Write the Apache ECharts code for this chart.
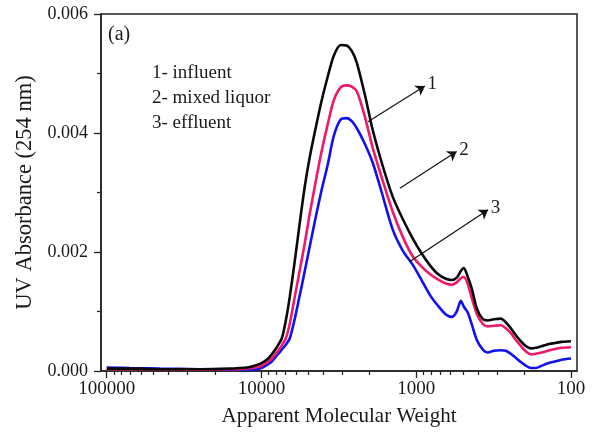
<!DOCTYPE html>
<html><head><meta charset="utf-8">
<script src="https://cdn.jsdelivr.net/npm/echarts@6/dist/echarts.min.js"></script>
<style>html,body{margin:0;padding:0;background:#fff}#c{width:596px;height:432px}</style>
</head><body><div id="c"></div>
<script>
// Apparent molecular weight (x, log scale, reversed)
const molecularWeight = [100000, 71000, 45400, 25000, 16000, 13800, 12400, 11400, 10250, 9250,
  8580, 7960, 7390, 6960, 6560, 6090, 5650, 5250, 4870, 4450,
  4080, 3730, 3410, 3070, 2810, 2610, 2420, 2150, 1910, 1670,
  1420, 1220, 1050, 920, 817, 725, 644, 589, 547, 515,
  492, 464, 437, 406, 371, 345, 315, 284, 264, 245,
  227, 211, 196, 182, 169, 154, 141, 127, 115, 100];
// 1- influent
const influent = [0.00004, 0.00004, 0.00003, 0.00003, 0.00004, 0.00005, 0.00006, 0.00008, 0.00012, 0.00019,
  0.00028, 0.00040, 0.00055, 0.00085, 0.00125, 0.00185, 0.00250, 0.00310, 0.00360, 0.00410,
  0.00455, 0.00495, 0.00530, 0.00548, 0.00547, 0.00538, 0.00518, 0.00465, 0.00405, 0.00350,
  0.00293, 0.00255, 0.00222, 0.00197, 0.00178, 0.00163, 0.00155, 0.00153, 0.00157, 0.00168,
  0.00173, 0.00158, 0.00138, 0.00105, 0.00087, 0.00085, 0.00087, 0.00088, 0.00082, 0.00072,
  0.00060, 0.00050, 0.00042, 0.00038, 0.00039, 0.00042, 0.00045, 0.00047, 0.00049, 0.00050];
// 2- mixed liquor
const mixedLiquor = [0.00003, 0.00003, 0.00003, 0.00002, 0.00003, 0.00003, 0.00004, 0.00005, 0.00008, 0.00014,
  0.00021, 0.00031, 0.00043, 0.00055, 0.00080, 0.00125, 0.00170, 0.00215, 0.00265, 0.00320,
  0.00370, 0.00415, 0.00455, 0.00477, 0.00480, 0.00478, 0.00470, 0.00428, 0.00375, 0.00325,
  0.00268, 0.00225, 0.00192, 0.00175, 0.00163, 0.00154, 0.00147, 0.00145, 0.00149, 0.00156,
  0.00158, 0.00146, 0.00122, 0.00096, 0.00079, 0.00075, 0.00076, 0.00077, 0.00072, 0.00064,
  0.00052, 0.00042, 0.00033, 0.00028, 0.00029, 0.00031, 0.00034, 0.00037, 0.00039, 0.00040];
// 3- effluent
const effluent = [0.00006, 0.00005, 0.00004, 0.00003, 0.00002, 0.00002, 0.00002, 0.00002, 0.00004, 0.00010,
  0.00016, 0.00026, 0.00036, 0.00044, 0.00055, 0.00088, 0.00128, 0.00168, 0.00210, 0.00260,
  0.00305, 0.00347, 0.00395, 0.00423, 0.00425, 0.00420, 0.00408, 0.00382, 0.00350, 0.00300,
  0.00238, 0.00202, 0.00178, 0.00152, 0.00128, 0.00110, 0.00095, 0.00091, 0.00100, 0.00118,
  0.00108, 0.00098, 0.00078, 0.00052, 0.00036, 0.00031, 0.00034, 0.00035, 0.00034, 0.00029,
  0.00022, 0.00015, 0.00009, 0.00005, 0.00005, 0.00009, 0.00013, 0.00016, 0.00019, 0.00021];

const xMajorTicks = [100000, 10000, 1000, 100];
const xMinorTicks = [90000, 80000, 70000, 60000, 50000, 40000, 30000, 20000,
  9000, 8000, 7000, 6000, 5000, 4000, 3000, 2000,
  900, 800, 700, 600, 500, 400, 300, 200];
const seriesNames = ['1- influent', '2- mixed liquor', '3- effluent'];
const arrowLabels = ['1', '2', '3'];
// arrow start / end points [MW, absorbance]
const arrowStarts = [[2050, 0.00419], [1276, 0.00307], [1099, 0.00184]];
const arrowEnds = [[879, 0.00479], [548, 0.00369], [343, 0.00271]];

const FONT = '"Liberation Serif", "Times New Roman", serif';
const TXT = '#1a1a1a';
const lg = v => Math.log10(v);
const toPts = ys => molecularWeight.map((m, i) => [lg(m), ys[i]]);

const chart = echarts.init(document.getElementById('c'), null, {renderer: 'canvas'});
const baseX = {
  type: 'value', min: 1.961, max: 5.037, inverse: true, position: 'bottom',
  splitLine: {show: false}
};
const option = {
  animation: false,
  backgroundColor: '#fff',
  grid: {left: 101, right: 19, top: 14, bottom: 61, show: true, borderColor: '#222', borderWidth: 1.5},
  xAxis: [
    Object.assign({}, baseX, {
      name: 'Apparent Molecular Weight', nameLocation: 'middle', nameGap: 35,
      nameTextStyle: {fontFamily: FONT, fontSize: 21, color: TXT},
      axisLine: {show: true, lineStyle: {color: '#222', width: 1.5}},
      axisTick: {show: true, inside: false, length: 7, customValues: xMajorTicks.map(lg), lineStyle: {color: '#222', width: 1.3}},
      axisLabel: {show: true, margin: 9, customValues: xMajorTicks.map(lg),
        formatter: v => String(Math.round(Math.pow(10, v))),
        fontFamily: FONT, fontSize: 19, color: TXT}
    }),
    Object.assign({}, baseX, {
      axisLine: {show: false},
      axisTick: {show: true, inside: false, length: 4, customValues: xMinorTicks.map(lg), lineStyle: {color: '#222', width: 1.2}},
      axisLabel: {show: false}
    })
  ],
  yAxis: {
    type: 'value', min: 0, max: 0.006, interval: 0.002,
    name: 'UV Absorbance (254 nm)', nameLocation: 'middle', nameGap: 64, nameRotate: 90,
    nameTextStyle: {fontFamily: FONT, fontSize: 22.5, color: TXT},
    axisLine: {show: true, lineStyle: {color: '#222', width: 1.5}},
    axisTick: {show: true, inside: false, length: 7, lineStyle: {color: '#222', width: 1.3}},
    minorTick: {show: true, splitNumber: 2, length: 4, lineStyle: {color: '#222', width: 1.2}},
    splitLine: {show: false},
    axisLabel: {margin: 13, formatter: v => v.toFixed(3), fontFamily: FONT, fontSize: 18, color: TXT}
  },
  series: [
    {name: seriesNames[2], type: 'line', data: toPts(effluent), showSymbol: false, smooth: 0.25,
      lineStyle: {color: '#1010f0', width: 2.6}, z: 2},
    {name: seriesNames[1], type: 'line', data: toPts(mixedLiquor), showSymbol: false, smooth: 0.25,
      lineStyle: {color: '#f0186a', width: 2.6}, z: 3},
    {name: seriesNames[0], type: 'line', data: toPts(influent), showSymbol: false, smooth: 0.25,
      lineStyle: {color: '#0a0a0a', width: 2.6}, z: 4,
      markLine: {
        silent: true, animation: false,
        symbol: ['none', 'arrow'], symbolSize: 9,
        lineStyle: {color: '#111', width: 1.2, type: 'solid'},
        label: {show: true, position: 'end', distance: 3, formatter: '{b}',
          fontFamily: FONT, fontSize: 19, color: TXT},
        data: arrowStarts.map((s, i) => [
          {name: arrowLabels[i], coord: [lg(s[0]), s[1]]},
          {coord: [lg(arrowEnds[i][0]), arrowEnds[i][1]], symbol: 'arrow', symbolSize: 9}
        ])
      }}
  ],
  graphic: [
    {type: 'text', left: 108, top: 25, style: {text: '(a)', font: '20px ' + FONT, fill: TXT}},
    {type: 'text', left: 152, top: 64, style: {text: seriesNames[0], font: '19px ' + FONT, fill: TXT}},
    {type: 'text', left: 152, top: 89, style: {text: seriesNames[1], font: '19px ' + FONT, fill: TXT}},
    {type: 'text', left: 152, top: 114, style: {text: seriesNames[2], font: '19px ' + FONT, fill: TXT}}
  ]
};
chart.setOption(option);
</script>
</body></html>
